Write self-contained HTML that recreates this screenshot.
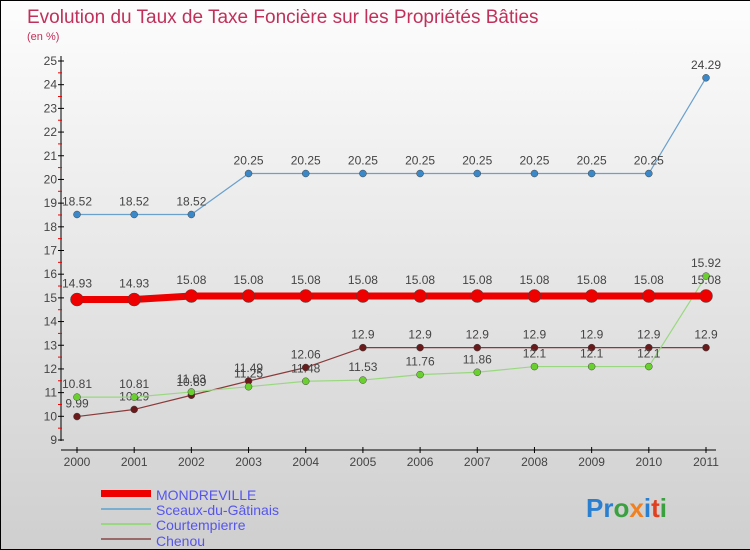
<!DOCTYPE html>
<html><head><meta charset="utf-8"><style>
body{margin:0}
#c{width:750px;height:550px;position:relative;overflow:hidden;box-sizing:border-box;border:1px solid #000;border-right:none;background:linear-gradient(#fdfdfd,#cfcfcf);font-family:"Liberation Sans",sans-serif}
</style></head><body>
<div id="c">
<svg width="750" height="550" id="s" style="position:absolute;left:0;top:0">
<text x="26" y="22" font-size="19" fill="#c0305a">Evolution du Taux de Taxe Foncière sur les Propriétés Bâties</text>
<text x="26" y="39" font-size="11" fill="#c0305a">(en %)</text>
<g id="ax"></g><g id="ser"></g>
<g>
<rect x="100" y="489" width="50" height="7" fill="#e00"/>
<text x="155" y="499" font-size="14" fill="#5555ee">MONDREVILLE</text>
<rect x="100" y="507" width="50" height="2" fill="#7aaed0"/>
<text x="155" y="514" font-size="14" fill="#5555ee">Sceaux-du-Gâtinais</text>
<rect x="100" y="522" width="50" height="2" fill="#9ad880"/>
<text x="155" y="529" font-size="14" fill="#5555ee">Courtempierre</text>
<rect x="100" y="537" width="50" height="2" fill="#9a6a6a"/>
<text x="155" y="545" font-size="14" fill="#5555ee">Chenou</text>
</g>
<text x="585" y="516" font-size="26" font-weight="bold"><tspan fill="#2a7fd0">Pr</tspan><tspan fill="#3aa040">o</tspan><tspan fill="#f08020">x</tspan><tspan fill="#2a7fd0">i</tspan><tspan fill="#e04020">t</tspan><tspan fill="#3aa040">i</tspan></text>
</svg>
</div>
<script>
const years=[2000,2001,2002,2003,2004,2005,2006,2007,2008,2009,2010,2011];
const yTicks=[9,10,11,12,13,14,15,16,17,18,19,20,21,22,23,24,25];
const mondreville=[14.93,14.93,15.08,15.08,15.08,15.08,15.08,15.08,15.08,15.08,15.08,15.08];
const sceaux=[18.52,18.52,18.52,20.25,20.25,20.25,20.25,20.25,20.25,20.25,20.25,24.29];
const courtempierre=[10.81,10.81,11.03,11.25,11.48,11.53,11.76,11.86,12.1,12.1,12.1,15.92];
const chenou=[9.99,10.29,10.89,11.49,12.06,12.9,12.9,12.9,12.9,12.9,12.9,12.9];
const NS="http://www.w3.org/2000/svg";
const X=i=>76+i*(705-76)/(years.length-1);
const Y=v=>439-(v-9)*(439-60)/16;
function el(t,a,p){const e=document.createElementNS(NS,t);for(const k in a)e.setAttribute(k,a[k]);p.appendChild(e);return e;}
const ax=document.getElementById('ax'),ser=document.getElementById('ser');
const yl=el('line',{x1:60,y1:55,x2:60,y2:440,stroke:'#000'},ax);


const xl=el('line',{x1:60,y1:449,x2:715,y2:449,stroke:'#000'},ax);


yTicks.forEach(v=>{
 el('line',{x1:57,y1:Y(v),x2:63,y2:Y(v),stroke:'#000'},ax);
 if(v<25)el('line',{x1:57,y1:Y(v+0.5),x2:61,y2:Y(v+0.5),stroke:'#e00'},ax);
 const t=el('text',{x:56,y:Y(v)+4,'font-size':12,'text-anchor':'end',fill:'#444'},ax);t.textContent=v;
 
 
});
years.forEach((yr,i)=>{
 el('line',{x1:X(i),y1:446,x2:X(i),y2:452,stroke:'#000'},ax);
 const t=el('text',{x:X(i),y:465,'font-size':12,'text-anchor':'middle',fill:'#444'},ax);t.textContent=yr;
 
 
});
function series(d,name,color,dot,w,r,labUp){
 const g=el('g',{},ser);
 
 
 el('polyline',{points:d.map((v,i)=>X(i)+','+Y(v)).join(' '),fill:'none',stroke:color,'stroke-width':w},g);
 d.forEach((v,i)=>{
  const c=el('circle',{cx:X(i),cy:Y(v),r:r,fill:dot,stroke:'#444','stroke-width':0.5},g);
  
  
  const t=el('text',{x:X(i),y:Y(v)-(labUp||8),'font-size':12,'text-anchor':'middle',fill:'#444'},g);
  t.textContent=v.toFixed(2).replace(/0$/,'');
  
  
 });
}
series(sceaux,'sceaux','#6aa0cc','#3a88c8',1.2,3.5,9);
series(chenou,'chenou','#8a3a3a','#6a1a1a',1.2,3.5,9);
series(courtempierre,'courtempierre','#9ad880','#6ad030',1.2,3.5,9);
series(mondreville,'mondreville','#ee0000','#ee0000',7,6.5,12);
</script>
</body></html>
